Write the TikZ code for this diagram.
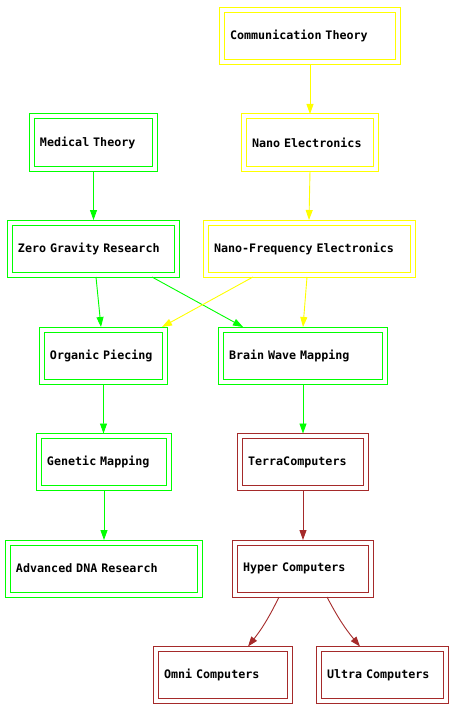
\documentclass[tikz,border=0pt]{standalone}
\usepackage{fontspec}
\setmonofont{DejaVu Sans Mono}
\usetikzlibrary{arrows.meta}
\definecolor{gvgreen}{HTML}{00FF00}
\definecolor{gvyellow}{HTML}{FFFF00}
\definecolor{gvbrown}{HTML}{A52A2A}
\newcommand{\labelfont}{\ttfamily\bfseries\fontsize{11.7bp}{13bp}\selectfont\spaceskip=0.602em\relax}
\tikzset{
  nodebox/.style={draw=#1, line width=1bp, fill=white,
    rectangle, minimum height=57bp, inner xsep=10.5bp, inner ysep=0pt, outer sep=0pt,
    align=left, font=\labelfont},
  boxw/.style={minimum width=#1bp-1bp, text width=#1bp-22bp},
  innerline/.style={draw=#1, line width=1bp},
  edge/.style={draw=#1, line width=0.9bp, -{Triangle[length=10bp,width=7bp]}}
}
\begin{document}
\begin{tikzpicture}[x=1bp, y=-1bp]
  \useasboundingbox (0,0) rectangle (450,706);
  % yellow chain
  \node[nodebox=gvyellow, boxw=182] (comm) at (310,36) {Communication Theory};
  \node[nodebox=gvyellow, boxw=138] (nano) at (310,142.5) {Nano Electronics};
  \node[nodebox=gvyellow, boxw=213] (nf) at (309.5,248.5) {Nano-Frequency Electronics};
  % green chain
  \node[nodebox=gvgreen, boxw=129] (med) at (93.5,142.5) {Medical Theory};
  \node[nodebox=gvgreen, boxw=173] (zg) at (93.5,248.5) {Zero Gravity Research};
  \node[nodebox=gvgreen, boxw=129] (op) at (103.5,355.5) {Organic Piecing};
  \node[nodebox=gvgreen, boxw=170] (bw) at (303,355.5) {Brain Wave Mapping};
  \node[nodebox=gvgreen, boxw=136] (gm) at (104,462) {Genetic Mapping};
  \node[nodebox=gvgreen, boxw=198] (dna) at (104,568.5) {Advanced DNA Research};
  % brown chain
  \node[nodebox=gvbrown, boxw=132] (tc) at (303,462) {TerraComputers};
  \node[nodebox=gvbrown, boxw=142] (hc) at (303,568.5) {Hyper Computers};
  \node[nodebox=gvbrown, boxw=140] (omni) at (223,675) {Omni Computers};
  \node[nodebox=gvbrown, boxw=133] (ultra) at (382.5,675) {Ultra Computers};
  % inner frame of each double border
  \foreach \n/\c in {comm/gvyellow, nano/gvyellow, nf/gvyellow,
                     med/gvgreen, zg/gvgreen, op/gvgreen, bw/gvgreen, gm/gvgreen, dna/gvgreen,
                     tc/gvbrown, hc/gvbrown, omni/gvbrown, ultra/gvbrown}
    \draw[innerline=\c] ([shift={(5bp,-5bp)}]\n.north west) rectangle ([shift={(-5bp,5bp)}]\n.south east);
  % connectors
  \draw[edge=gvyellow] (comm.south) -- (nano.north);
  \draw[edge=gvyellow] (nano.south) -- ([xshift=-0.5bp]nf.north);
  \draw[edge=gvgreen] (med.south) -- (zg.north);
  \draw[edge=gvgreen] ([xshift=2.5bp]zg.south) -- ([xshift=-2.5bp]op.north);
  \draw[edge=gvgreen] ([xshift=58.5bp]zg.south) -- ([xshift=-60bp]bw.north);
  \draw[edge=gvyellow] ([xshift=-56.5bp]nf.south) -- ([xshift=58.5bp]op.north);
  \draw[edge=gvyellow] ([xshift=-2.5bp]nf.south) -- (bw.north);
  \draw[edge=gvgreen] (op.south) -- ([xshift=-0.5bp]gm.north);
  \draw[edge=gvgreen] (bw.south) -- (tc.north);
  \draw[edge=gvgreen] (gm.south) -- (dna.north);
  \draw[edge=gvbrown] (tc.south) -- (hc.north);
  \draw[edge=gvbrown] ([xshift=-24bp]hc.south) to[bend left=6] ([xshift=25bp]omni.north);
  \draw[edge=gvbrown] ([xshift=24bp]hc.south) to[bend right=6] ([xshift=-22.5bp]ultra.north);
\end{tikzpicture}
\end{document}
